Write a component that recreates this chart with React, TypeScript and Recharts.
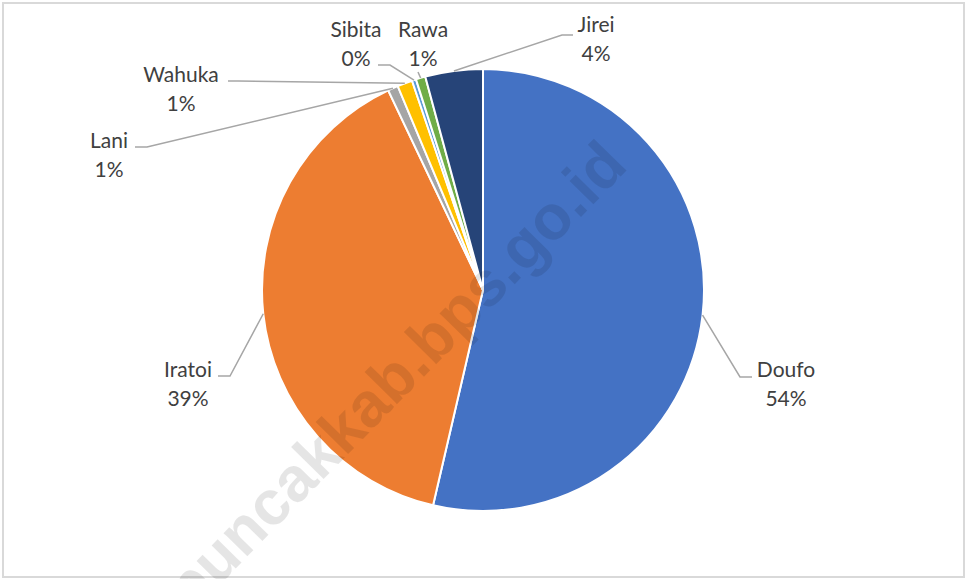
import React from 'react';
import { PieChart, Pie, Cell } from 'recharts';

const districts = ['Doufo', 'Iratoi', 'Lani', 'Wahuka', 'Sibita', 'Rawa', 'Jirei'];
const shares = [53.6, 39.3, 0.75, 1.1, 0.3, 0.7, 4.2];
const colors = ['#4472C4', '#ED7D31', '#A5A5A5', '#FFC000', '#5B9BD5', '#70AD47', '#264478'];

const data = districts.map((name, i) => ({ name, value: shares[i] }));

// label layout: offsets relative to the pie centre
const labelLayout = [
  { elbow: [257, 87], end: [269, 87], tx: 303, ty: 87 },
  { elbow: [-253, 86], end: [-265, 86], tx: -295, ty: 87 },
  { elbow: [-336, -143], end: [-348, -143], tx: -374, ty: -142 },
  { elbow: [-245, -209], end: [-255, -209], tx: -302, ty: -208 },
  { elbow: [-93, -225], end: [-105, -225], tx: -127, ty: -253 },
  { elbow: [-65, -218], end: [-65, -218], tx: -60, ty: -253 },
  { elbow: [79, -255], end: [90, -255], tx: 113, ty: -258 },
];

const RAD = Math.PI / 180;
const W = 969;
const H = 579;
const CX = 483;
const CY = 290;
const R = 221;

const renderLabel = (props: any) => {
  const { cx, cy, midAngle, outerRadius, index, percent, name } = props;
  const L = labelLayout[index];
  const sx = cx + outerRadius * Math.cos(-midAngle * RAD);
  const sy = cy + outerRadius * Math.sin(-midAngle * RAD);
  const ex = cx + L.elbow[0];
  const ey = cy + L.elbow[1];
  const fx = cx + L.end[0];
  const fy = cy + L.end[1];
  const tx = cx + L.tx;
  const ty = cy + L.ty;
  return (
    <g key={`lbl-${index}`}>
      <polyline
        points={`${sx},${sy} ${ex},${ey} ${fx},${fy}`}
        fill="none"
        stroke="#A6A6A6"
        strokeWidth={1.5}
      />
      <text
        x={tx}
        y={ty}
        textAnchor="middle"
        fill="#404040"
        fontFamily="Lato, 'Open Sans', sans-serif"
        fontSize={21}
      >
        {name}
      </text>
      <text
        x={tx}
        y={ty + 29}
        textAnchor="middle"
        fill="#404040"
        fontFamily="Lato, 'Open Sans', sans-serif"
        fontSize={21}
      >
        {`${Math.round(percent * 100)}%`}
      </text>
    </g>
  );
};

export default function App() {
  return (
    <div style={{ position: 'absolute', left: 0, top: 0, width: W, height: H, background: '#fff' }}>
      <div
        style={{
          position: 'absolute',
          left: 2,
          top: 2,
          width: 963,
          height: 576,
          border: '2px solid #D9D9D9',
          boxSizing: 'border-box',
        }}
      />
      <div style={{ position: 'absolute', left: 0, top: 0 }}>
        <PieChart width={W} height={H} margin={{ top: 0, right: 0, bottom: 0, left: 0 }}>
          <Pie
            data={data}
            dataKey="value"
            nameKey="name"
            cx={CX}
            cy={CY}
            outerRadius={R}
            startAngle={90}
            endAngle={-270}
            stroke="#FFFFFF"
            strokeWidth={2}
            label={renderLabel}
            labelLine={false}
            isAnimationActive={false}
          >
            {data.map((d, i) => (
              <Cell key={d.name} fill={colors[i]} />
            ))}
          </Pie>
        </PieChart>
      </div>
      <svg
        width={W}
        height={H}
        style={{ position: 'absolute', left: 0, top: 0, pointerEvents: 'none' }}
      >
        <text
          x={410}
          y={391}
          textAnchor="middle"
          transform="rotate(-45.5 410 391)"
          fontFamily="'Liberation Sans', Arial, sans-serif"
          fontWeight="bold"
          fontSize={63}
          fill="#000"
          fillOpacity={0.1}
        >
          puncakkab.bps.go.id
        </text>
      </svg>
    </div>
  );
}
